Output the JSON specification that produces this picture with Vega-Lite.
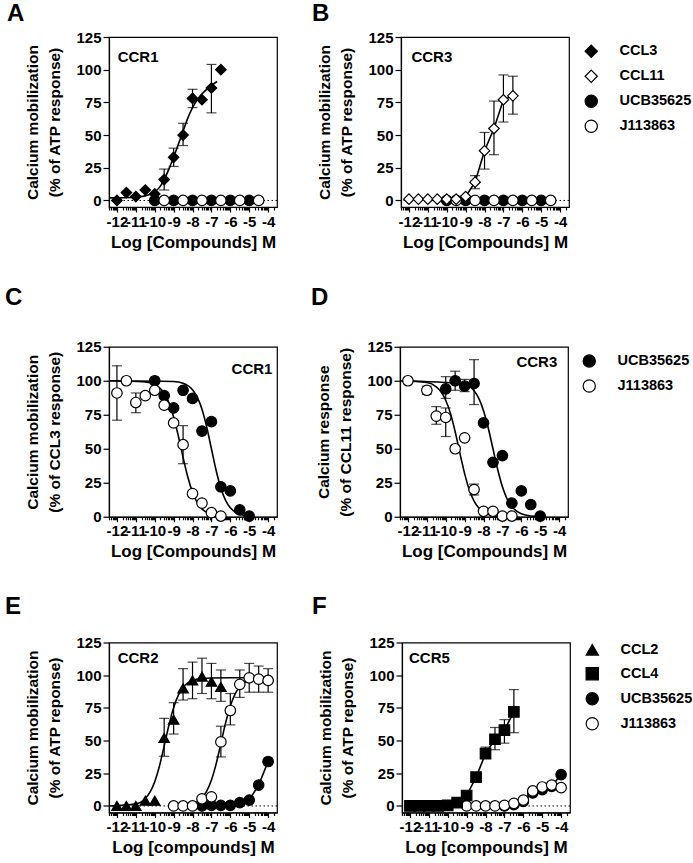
{
"$schema": "https://vega.github.io/schema/vega-lite/v6.json",
"padding": {"left": 4, "top": 0, "right": 0, "bottom": 0},
"background": "white",
"datasets": {
"pts": [
{"p":"A","s":"UCB35625","x":-10,"y":0},{"p":"A","s":"UCB35625","x":-9,"y":0},{"p":"A","s":"UCB35625","x":-8,"y":0},{"p":"A","s":"UCB35625","x":-7,"y":0},{"p":"A","s":"UCB35625","x":-6,"y":0},{"p":"A","s":"UCB35625","x":-5,"y":0},
{"p":"A","s":"J113863","x":-9.5,"y":0},{"p":"A","s":"J113863","x":-8.5,"y":0},{"p":"A","s":"J113863","x":-7.5,"y":0},{"p":"A","s":"J113863","x":-6.5,"y":0},{"p":"A","s":"J113863","x":-5.5,"y":0},{"p":"A","s":"J113863","x":-4.5,"y":0},
{"p":"A","s":"CCL3","x":-12,"y":0},{"p":"A","s":"CCL3","x":-11.5,"y":6},{"p":"A","s":"CCL3","x":-11,"y":3},{"p":"A","s":"CCL3","x":-10.5,"y":8},{"p":"A","s":"CCL3","x":-10,"y":5},{"p":"A","s":"CCL3","x":-9.5,"y":16},{"p":"A","s":"CCL3","x":-9,"y":33},{"p":"A","s":"CCL3","x":-8.5,"y":50},{"p":"A","s":"CCL3","x":-8,"y":78},{"p":"A","s":"CCL3","x":-7.5,"y":77},{"p":"A","s":"CCL3","x":-7,"y":86},{"p":"A","s":"CCL3","x":-6.5,"y":100},
{"p":"B","s":"UCB35625","x":-10,"y":0},{"p":"B","s":"UCB35625","x":-9,"y":0},{"p":"B","s":"UCB35625","x":-8,"y":0},{"p":"B","s":"UCB35625","x":-7,"y":0},{"p":"B","s":"UCB35625","x":-6,"y":0},{"p":"B","s":"UCB35625","x":-5,"y":0},
{"p":"B","s":"J113863","x":-9.5,"y":0},{"p":"B","s":"J113863","x":-8.5,"y":0},{"p":"B","s":"J113863","x":-7.5,"y":0},{"p":"B","s":"J113863","x":-6.5,"y":0},{"p":"B","s":"J113863","x":-5.5,"y":0},{"p":"B","s":"J113863","x":-4.5,"y":0},
{"p":"B","s":"CCL11","x":-12,"y":1},{"p":"B","s":"CCL11","x":-11.5,"y":1},{"p":"B","s":"CCL11","x":-11,"y":1},{"p":"B","s":"CCL11","x":-10.5,"y":1},{"p":"B","s":"CCL11","x":-10,"y":1},{"p":"B","s":"CCL11","x":-9.5,"y":1},{"p":"B","s":"CCL11","x":-9,"y":3},{"p":"B","s":"CCL11","x":-8.5,"y":14},{"p":"B","s":"CCL11","x":-8,"y":38},{"p":"B","s":"CCL11","x":-7.5,"y":55},{"p":"B","s":"CCL11","x":-7,"y":77},{"p":"B","s":"CCL11","x":-6.5,"y":80},
{"p":"C","s":"UCB35625","x":-10,"y":100},{"p":"C","s":"UCB35625","x":-9.5,"y":89},{"p":"C","s":"UCB35625","x":-9,"y":80},{"p":"C","s":"UCB35625","x":-8.5,"y":93},{"p":"C","s":"UCB35625","x":-8,"y":87},{"p":"C","s":"UCB35625","x":-7.5,"y":63},{"p":"C","s":"UCB35625","x":-7,"y":70},{"p":"C","s":"UCB35625","x":-6.5,"y":22},{"p":"C","s":"UCB35625","x":-6,"y":19},{"p":"C","s":"UCB35625","x":-5.5,"y":5},{"p":"C","s":"UCB35625","x":-5,"y":0.5},
{"p":"C","s":"J113863","x":-12,"y":91},{"p":"C","s":"J113863","x":-11.5,"y":100},{"p":"C","s":"J113863","x":-11,"y":84},{"p":"C","s":"J113863","x":-10.5,"y":89},{"p":"C","s":"J113863","x":-10,"y":93},{"p":"C","s":"J113863","x":-9.5,"y":82},{"p":"C","s":"J113863","x":-9,"y":69},{"p":"C","s":"J113863","x":-8.5,"y":53},{"p":"C","s":"J113863","x":-8,"y":17},{"p":"C","s":"J113863","x":-7.5,"y":10},{"p":"C","s":"J113863","x":-7,"y":3},{"p":"C","s":"J113863","x":-6.5,"y":0.5},
{"p":"D","s":"UCB35625","x":-10,"y":94},{"p":"D","s":"UCB35625","x":-9.5,"y":100},{"p":"D","s":"UCB35625","x":-9,"y":96},{"p":"D","s":"UCB35625","x":-8.5,"y":98},{"p":"D","s":"UCB35625","x":-8,"y":69},{"p":"D","s":"UCB35625","x":-7.5,"y":40},{"p":"D","s":"UCB35625","x":-7,"y":45},{"p":"D","s":"UCB35625","x":-6.5,"y":10},{"p":"D","s":"UCB35625","x":-6,"y":19},{"p":"D","s":"UCB35625","x":-5.5,"y":9},{"p":"D","s":"UCB35625","x":-5,"y":0.5},
{"p":"D","s":"J113863","x":-12,"y":100},{"p":"D","s":"J113863","x":-11,"y":93},{"p":"D","s":"J113863","x":-10.5,"y":74},{"p":"D","s":"J113863","x":-10,"y":73},{"p":"D","s":"J113863","x":-9.5,"y":50},{"p":"D","s":"J113863","x":-9,"y":58},{"p":"D","s":"J113863","x":-8.5,"y":20},{"p":"D","s":"J113863","x":-8,"y":4},{"p":"D","s":"J113863","x":-7.5,"y":4},{"p":"D","s":"J113863","x":-7,"y":0.5},{"p":"D","s":"J113863","x":-6.5,"y":0.5},
{"p":"E","s":"UCB35625","x":-7.5,"y":0},{"p":"E","s":"UCB35625","x":-7,"y":0.5},{"p":"E","s":"UCB35625","x":-6.5,"y":0.5},{"p":"E","s":"UCB35625","x":-6,"y":0.5},{"p":"E","s":"UCB35625","x":-5.5,"y":2.5},{"p":"E","s":"UCB35625","x":-5,"y":4.5},{"p":"E","s":"UCB35625","x":-4.5,"y":16},{"p":"E","s":"UCB35625","x":-4,"y":34},
{"p":"E","s":"J113863","x":-9,"y":0},{"p":"E","s":"J113863","x":-8.5,"y":0},{"p":"E","s":"J113863","x":-8,"y":0},{"p":"E","s":"J113863","x":-7.5,"y":5.5},{"p":"E","s":"J113863","x":-7,"y":7},{"p":"E","s":"J113863","x":-6.5,"y":49},{"p":"E","s":"J113863","x":-6,"y":73},{"p":"E","s":"J113863","x":-5.5,"y":93},{"p":"E","s":"J113863","x":-5,"y":98},{"p":"E","s":"J113863","x":-4.5,"y":97},{"p":"E","s":"J113863","x":-4,"y":96},
{"p":"E","s":"CCL2","x":-12,"y":0},{"p":"E","s":"CCL2","x":-11.5,"y":0},{"p":"E","s":"CCL2","x":-11,"y":0},{"p":"E","s":"CCL2","x":-10.5,"y":4},{"p":"E","s":"CCL2","x":-10,"y":4},{"p":"E","s":"CCL2","x":-9.5,"y":52},{"p":"E","s":"CCL2","x":-9,"y":66},{"p":"E","s":"CCL2","x":-8.5,"y":90},{"p":"E","s":"CCL2","x":-8,"y":96},{"p":"E","s":"CCL2","x":-7.5,"y":99},{"p":"E","s":"CCL2","x":-7,"y":95},{"p":"E","s":"CCL2","x":-6.5,"y":91},
{"p":"F","s":"UCB35625","x":-7,"y":0},{"p":"F","s":"UCB35625","x":-6.5,"y":1},{"p":"F","s":"UCB35625","x":-6,"y":3.5},{"p":"F","s":"UCB35625","x":-5.5,"y":10},{"p":"F","s":"UCB35625","x":-5,"y":12.5},{"p":"F","s":"UCB35625","x":-4.5,"y":15},{"p":"F","s":"UCB35625","x":-4,"y":24},
{"p":"F","s":"J113863","x":-9,"y":0},{"p":"F","s":"J113863","x":-8.5,"y":0},{"p":"F","s":"J113863","x":-8,"y":0},{"p":"F","s":"J113863","x":-7.5,"y":0},{"p":"F","s":"J113863","x":-7,"y":0.5},{"p":"F","s":"J113863","x":-6.5,"y":2},{"p":"F","s":"J113863","x":-6,"y":4.5},{"p":"F","s":"J113863","x":-5.5,"y":11.5},{"p":"F","s":"J113863","x":-5,"y":14.5},{"p":"F","s":"J113863","x":-4.5,"y":16},{"p":"F","s":"J113863","x":-4,"y":14},
{"p":"F","s":"CCL4","x":-12,"y":0},{"p":"F","s":"CCL4","x":-11.5,"y":0},{"p":"F","s":"CCL4","x":-11,"y":0},{"p":"F","s":"CCL4","x":-10.5,"y":0},{"p":"F","s":"CCL4","x":-10,"y":0.5},{"p":"F","s":"CCL4","x":-9.5,"y":2.5},{"p":"F","s":"CCL4","x":-9,"y":8},{"p":"F","s":"CCL4","x":-8.5,"y":22},{"p":"F","s":"CCL4","x":-8,"y":40},{"p":"F","s":"CCL4","x":-7.5,"y":51},{"p":"F","s":"CCL4","x":-7,"y":58},{"p":"F","s":"CCL4","x":-6.5,"y":72}
],
"err": [
{"p":"A","x":-9.5,"lo":8,"hi":24},{"p":"A","x":-9,"lo":26,"hi":40},{"p":"A","x":-8.5,"lo":42,"hi":59},{"p":"A","x":-8,"lo":71,"hi":85},{"p":"A","x":-7,"lo":67,"hi":104},
{"p":"B","x":-8.5,"lo":9,"hi":19},{"p":"B","x":-8,"lo":24,"hi":52},{"p":"B","x":-7.5,"lo":35,"hi":76},{"p":"B","x":-7,"lo":60,"hi":96},{"p":"B","x":-6.5,"lo":66,"hi":95},
{"p":"C","x":-12,"lo":71,"hi":111},{"p":"C","x":-11,"lo":76.5,"hi":91},{"p":"C","x":-8.5,"lo":39,"hi":67},
{"p":"D","x":-11,"lo":90,"hi":96},{"p":"D","x":-10.5,"lo":68,"hi":81},{"p":"D","x":-10,"lo":59,"hi":80},{"p":"D","x":-10,"lo":87,"hi":103},{"p":"D","x":-9.5,"lo":93,"hi":107},{"p":"D","x":-9,"lo":92,"hi":101},{"p":"D","x":-8.5,"lo":82.5,"hi":115.5},{"p":"D","x":-8.5,"lo":16,"hi":24},
{"p":"E","x":-9.5,"lo":38,"hi":67},{"p":"E","x":-9,"lo":55,"hi":79},{"p":"E","x":-8.5,"lo":81,"hi":105},{"p":"E","x":-8,"lo":82,"hi":110},{"p":"E","x":-7.5,"lo":86,"hi":113},{"p":"E","x":-7,"lo":82,"hi":109},{"p":"E","x":-6.5,"lo":80,"hi":104},
{"p":"E","x":-6.5,"lo":37.5,"hi":61},{"p":"E","x":-6,"lo":62,"hi":86},{"p":"E","x":-5.5,"lo":83,"hi":104},{"p":"E","x":-5,"lo":87,"hi":109},{"p":"E","x":-4.5,"lo":87,"hi":107},{"p":"E","x":-4,"lo":87,"hi":105},
{"p":"F","x":-8,"lo":37,"hi":45},{"p":"F","x":-7.5,"lo":43,"hi":60},{"p":"F","x":-7,"lo":48,"hi":66},{"p":"F","x":-6.5,"lo":56,"hi":89}
],
"fit": [
{"p":"A","s":"CCL3","x":-12.42,"y":2},{"p":"A","s":"CCL3","x":-11,"y":2.5},{"p":"A","s":"CCL3","x":-10.5,"y":3.5},{"p":"A","s":"CCL3","x":-10,"y":6.5},{"p":"A","s":"CCL3","x":-9.75,"y":10},{"p":"A","s":"CCL3","x":-9.5,"y":16},{"p":"A","s":"CCL3","x":-9.25,"y":24},{"p":"A","s":"CCL3","x":-9,"y":33},{"p":"A","s":"CCL3","x":-8.75,"y":43},{"p":"A","s":"CCL3","x":-8.5,"y":53},{"p":"A","s":"CCL3","x":-8.25,"y":63},{"p":"A","s":"CCL3","x":-8,"y":71},{"p":"A","s":"CCL3","x":-7.75,"y":77},{"p":"A","s":"CCL3","x":-7.5,"y":81.5},{"p":"A","s":"CCL3","x":-7.25,"y":85},{"p":"A","s":"CCL3","x":-7,"y":88},{"p":"A","s":"CCL3","x":-6.7,"y":91},
{"p":"C","s":"J113863","x":-12.42,"y":100},{"p":"C","s":"J113863","x":-10.5,"y":99.2},{"p":"C","s":"J113863","x":-10,"y":97.2},{"p":"C","s":"J113863","x":-9.5,"y":90.7},{"p":"C","s":"J113863","x":-9.25,"y":83.8},{"p":"C","s":"J113863","x":-9,"y":73.4},{"p":"C","s":"J113863","x":-8.75,"y":59.4},{"p":"C","s":"J113863","x":-8.5,"y":43.7},{"p":"C","s":"J113863","x":-8.25,"y":29.2},{"p":"C","s":"J113863","x":-8,"y":18},{"p":"C","s":"J113863","x":-7.75,"y":10.4},{"p":"C","s":"J113863","x":-7.5,"y":5.8},{"p":"C","s":"J113863","x":-7.25,"y":3.2},{"p":"C","s":"J113863","x":-7,"y":1.7},{"p":"C","s":"J113863","x":-6.5,"y":0.5},
{"p":"C","s":"UCB35625","x":-12.42,"y":100},{"p":"C","s":"UCB35625","x":-9,"y":99.5},{"p":"C","s":"UCB35625","x":-8.5,"y":98.2},{"p":"C","s":"UCB35625","x":-8,"y":93.4},{"p":"C","s":"UCB35625","x":-7.75,"y":87.9},{"p":"C","s":"UCB35625","x":-7.5,"y":79},{"p":"C","s":"UCB35625","x":-7.25,"y":66},{"p":"C","s":"UCB35625","x":-7,"y":50},{"p":"C","s":"UCB35625","x":-6.75,"y":34},{"p":"C","s":"UCB35625","x":-6.5,"y":21},{"p":"C","s":"UCB35625","x":-6.25,"y":12.1},{"p":"C","s":"UCB35625","x":-6,"y":6.6},{"p":"C","s":"UCB35625","x":-5.75,"y":3.5},{"p":"C","s":"UCB35625","x":-5.5,"y":1.8},{"p":"C","s":"UCB35625","x":-5,"y":0.5},{"p":"C","s":"UCB35625","x":-4.75,"y":0.3},
{"p":"D","s":"J113863","x":-12.42,"y":100},{"p":"D","s":"J113863","x":-11,"y":98.7},{"p":"D","s":"J113863","x":-10.5,"y":95.5},{"p":"D","s":"J113863","x":-10.25,"y":91.9},{"p":"D","s":"J113863","x":-10,"y":85.7},{"p":"D","s":"J113863","x":-9.75,"y":76},{"p":"D","s":"J113863","x":-9.5,"y":62.5},{"p":"D","s":"J113863","x":-9.25,"y":46.8},{"p":"D","s":"J113863","x":-9,"y":31.7},{"p":"D","s":"J113863","x":-8.75,"y":19.7},{"p":"D","s":"J113863","x":-8.5,"y":11.5},{"p":"D","s":"J113863","x":-8.25,"y":6.4},{"p":"D","s":"J113863","x":-8,"y":3.5},{"p":"D","s":"J113863","x":-7.5,"y":1},{"p":"D","s":"J113863","x":-7,"y":0.3},{"p":"D","s":"J113863","x":-6.5,"y":0.1},
{"p":"D","s":"UCB35625","x":-12.42,"y":100},{"p":"D","s":"UCB35625","x":-9,"y":97.8},{"p":"D","s":"UCB35625","x":-8.75,"y":96},{"p":"D","s":"UCB35625","x":-8.5,"y":92.6},{"p":"D","s":"UCB35625","x":-8.25,"y":87},{"p":"D","s":"UCB35625","x":-8,"y":78},{"p":"D","s":"UCB35625","x":-7.75,"y":65.3},{"p":"D","s":"UCB35625","x":-7.5,"y":50},{"p":"D","s":"UCB35625","x":-7.25,"y":34.7},{"p":"D","s":"UCB35625","x":-7,"y":22},{"p":"D","s":"UCB35625","x":-6.75,"y":13},{"p":"D","s":"UCB35625","x":-6.5,"y":7.4},{"p":"D","s":"UCB35625","x":-6,"y":2.2},{"p":"D","s":"UCB35625","x":-5.5,"y":0.6},{"p":"D","s":"UCB35625","x":-5,"y":0.2},
{"p":"E","s":"CCL2","x":-12.42,"y":0},{"p":"E","s":"CCL2","x":-11,"y":1.6},{"p":"E","s":"CCL2","x":-10.5,"y":5.7},{"p":"E","s":"CCL2","x":-10.25,"y":10.5},{"p":"E","s":"CCL2","x":-10,"y":18.5},{"p":"E","s":"CCL2","x":-9.75,"y":30.5},{"p":"E","s":"CCL2","x":-9.5,"y":45.8},{"p":"E","s":"CCL2","x":-9.25,"y":61.7},{"p":"E","s":"CCL2","x":-9,"y":75.2},{"p":"E","s":"CCL2","x":-8.75,"y":84.7},{"p":"E","s":"CCL2","x":-8.5,"y":90.7},{"p":"E","s":"CCL2","x":-8.25,"y":94.1},{"p":"E","s":"CCL2","x":-8,"y":95.9},{"p":"E","s":"CCL2","x":-7.5,"y":97.4},{"p":"E","s":"CCL2","x":-7,"y":97.8},{"p":"E","s":"CCL2","x":-6,"y":98},{"p":"E","s":"CCL2","x":-4,"y":98},
{"p":"E","s":"J113863","x":-9,"y":0.1},{"p":"E","s":"J113863","x":-8,"y":1.7},{"p":"E","s":"J113863","x":-7.5,"y":6.2},{"p":"E","s":"J113863","x":-7.25,"y":11.3},{"p":"E","s":"J113863","x":-7,"y":19.8},{"p":"E","s":"J113863","x":-6.75,"y":32.2},{"p":"E","s":"J113863","x":-6.5,"y":47.7},{"p":"E","s":"J113863","x":-6.25,"y":63.5},{"p":"E","s":"J113863","x":-6,"y":76.5},{"p":"E","s":"J113863","x":-5.75,"y":85.6},{"p":"E","s":"J113863","x":-5.5,"y":91.2},{"p":"E","s":"J113863","x":-5.25,"y":94.4},{"p":"E","s":"J113863","x":-5,"y":96.1},{"p":"E","s":"J113863","x":-4.5,"y":97.5},{"p":"E","s":"J113863","x":-4,"y":97.9}
]
},
"vconcat": [
{"hconcat": [
{"width":168,"height":170,"title":{"text":"A","dx":-102,"offset":4.5},
"layer":[
{"data":{"values":[{}]},"mark":{"type":"rule","strokeDash":[1.5,2.5],"strokeWidth":1,"color":"black"},"encoding":{"y":{"datum":0}}},
{"data":{"name":"fit"},"transform":[{"filter":"datum.p==='A'"}],"mark":{"type":"line","color":"black","strokeWidth":1.6,"interpolate":"monotone"},"encoding":{"x":{"field":"x","type":"quantitative"},"y":{"field":"y","type":"quantitative"},"detail":{"field":"s"}}},
{"data":{"name":"err"},"transform":[{"filter":"datum.p==='A'"}],"mark":{"type":"rule","color":"black","strokeWidth":1.2},"encoding":{"x":{"field":"x","type":"quantitative"},"y":{"field":"lo","type":"quantitative"},"y2":{"field":"hi"}}},
{"data":{"name":"err"},"transform":[{"filter":"datum.p==='A'"}],"mark":{"type":"tick","orient":"horizontal","color":"black","thickness":1.2,"size":10},"encoding":{"x":{"field":"x","type":"quantitative"},"y":{"field":"hi","type":"quantitative"}}},
{"data":{"name":"err"},"transform":[{"filter":"datum.p==='A'"}],"mark":{"type":"tick","orient":"horizontal","color":"black","thickness":1.2,"size":10},"encoding":{"x":{"field":"x","type":"quantitative"},"y":{"field":"lo","type":"quantitative"}}},
{"data":{"name":"pts"},"transform":[{"filter":"datum.p==='A'"}],"mark":{"type":"point","filled":true,"strokeWidth":1.2,"size":110,"opacity":1},
"encoding":{
"x":{"field":"x","type":"quantitative","scale":{"domain":[-12.42,-3.53],"nice":false,"zero":false},"axis":{"title":"Log [Compounds] M","tickCount":1000,"values":[-12.398,-12.301,-12.222,-12.155,-12.097,-12.046,-12,-11.699,-11.523,-11.398,-11.301,-11.222,-11.155,-11.097,-11.046,-11,-10.699,-10.523,-10.398,-10.301,-10.222,-10.155,-10.097,-10.046,-10,-9.699,-9.523,-9.398,-9.301,-9.222,-9.155,-9.097,-9.046,-9,-8.699,-8.523,-8.398,-8.301,-8.222,-8.155,-8.097,-8.046,-8,-7.699,-7.523,-7.398,-7.301,-7.222,-7.155,-7.097,-7.046,-7,-6.699,-6.523,-6.398,-6.301,-6.222,-6.155,-6.097,-6.046,-6,-5.699,-5.523,-5.398,-5.301,-5.222,-5.155,-5.097,-5.046,-5,-4.699,-4.523,-4.398,-4.301,-4.222,-4.155,-4.097,-4.046,-4,-3.699],"labelExpr":"datum.value % 1 === 0 ? datum.value : ''","tickSize":{"condition":{"test":"datum.value % 1 === 0","value":5},"value":3},"labelOverlap":false,"labelFlush":false,"labelBound":false}},
"y":{"field":"y","type":"quantitative","scale":{"domain":[-5,125],"nice":false,"zero":false},"axis":{"title":["Calcium mobilization","(% of ATP response)"],"values":[0,25,50,75,100,125],"tickCount":1000,"format":"d","labelOverlap":false}},
"shape":{"field":"s","type":"nominal","scale":{"domain":["CCL3","CCL11","UCB35625","J113863"],"range":["diamond","diamond","circle","circle"]},"legend":{"title":null,"padding":7,"offset":6}},
"fill":{"field":"s","type":"nominal","scale":{"domain":["CCL3","CCL11","UCB35625","J113863"],"range":["black","white","black","white"]},"legend":{"title":null,"padding":7,"offset":6}},
"stroke":{"field":"s","type":"nominal","scale":{"domain":["CCL3","CCL11","UCB35625","J113863"],"range":["black","black","black","black"]},"legend":{"title":null,"padding":7,"offset":6}}
}},
{"data":{"values":[{}]},"mark":{"type":"text","text":"CCR1","align":"left","baseline":"middle","fontSize":15,"fontWeight":"bold","color":"black"},"encoding":{"x":{"datum":-11.96},"y":{"datum":109.5}}}
]},
{"width":168,"height":170,"title":{"text":"B","dx":-89,"offset":4.5},
"layer":[
{"data":{"values":[{}]},"mark":{"type":"rule","strokeDash":[1.5,2.5],"strokeWidth":1,"color":"black"},"encoding":{"y":{"datum":0}}},
{"data":{"name":"pts"},"transform":[{"filter":"datum.p==='B' && datum.s==='CCL11'"}],"mark":{"type":"line","color":"black","strokeWidth":1.6},"encoding":{"x":{"field":"x","type":"quantitative"},"y":{"field":"y","type":"quantitative"}}},
{"data":{"name":"err"},"transform":[{"filter":"datum.p==='B'"}],"mark":{"type":"rule","color":"black","strokeWidth":1.2},"encoding":{"x":{"field":"x","type":"quantitative"},"y":{"field":"lo","type":"quantitative"},"y2":{"field":"hi"}}},
{"data":{"name":"err"},"transform":[{"filter":"datum.p==='B'"}],"mark":{"type":"tick","orient":"horizontal","color":"black","thickness":1.2,"size":10},"encoding":{"x":{"field":"x","type":"quantitative"},"y":{"field":"hi","type":"quantitative"}}},
{"data":{"name":"err"},"transform":[{"filter":"datum.p==='B'"}],"mark":{"type":"tick","orient":"horizontal","color":"black","thickness":1.2,"size":10},"encoding":{"x":{"field":"x","type":"quantitative"},"y":{"field":"lo","type":"quantitative"}}},
{"data":{"name":"pts"},"transform":[{"filter":"datum.p==='B'"}],"mark":{"type":"point","filled":true,"strokeWidth":1.2,"size":110,"opacity":1},
"encoding":{
"x":{"field":"x","type":"quantitative","scale":{"domain":[-12.42,-3.53],"nice":false,"zero":false},"axis":{"title":"Log [Compounds] M","tickCount":1000,"values":[-12.398,-12.301,-12.222,-12.155,-12.097,-12.046,-12,-11.699,-11.523,-11.398,-11.301,-11.222,-11.155,-11.097,-11.046,-11,-10.699,-10.523,-10.398,-10.301,-10.222,-10.155,-10.097,-10.046,-10,-9.699,-9.523,-9.398,-9.301,-9.222,-9.155,-9.097,-9.046,-9,-8.699,-8.523,-8.398,-8.301,-8.222,-8.155,-8.097,-8.046,-8,-7.699,-7.523,-7.398,-7.301,-7.222,-7.155,-7.097,-7.046,-7,-6.699,-6.523,-6.398,-6.301,-6.222,-6.155,-6.097,-6.046,-6,-5.699,-5.523,-5.398,-5.301,-5.222,-5.155,-5.097,-5.046,-5,-4.699,-4.523,-4.398,-4.301,-4.222,-4.155,-4.097,-4.046,-4,-3.699],"labelExpr":"datum.value % 1 === 0 ? datum.value : ''","tickSize":{"condition":{"test":"datum.value % 1 === 0","value":5},"value":3},"labelOverlap":false,"labelFlush":false,"labelBound":false}},
"y":{"field":"y","type":"quantitative","scale":{"domain":[-5,125],"nice":false,"zero":false},"axis":{"title":["Calcium mobilization","(% of ATP response)"],"values":[0,25,50,75,100,125],"tickCount":1000,"format":"d","labelOverlap":false}},
"shape":{"field":"s","type":"nominal","scale":{"domain":["CCL3","CCL11","UCB35625","J113863"],"range":["diamond","diamond","circle","circle"]},"legend":{"title":null,"padding":7,"offset":6}},
"fill":{"field":"s","type":"nominal","scale":{"domain":["CCL3","CCL11","UCB35625","J113863"],"range":["black","white","black","white"]},"legend":{"title":null,"padding":7,"offset":6}},
"stroke":{"field":"s","type":"nominal","scale":{"domain":["CCL3","CCL11","UCB35625","J113863"],"range":["black","black","black","black"]},"legend":{"title":null,"padding":7,"offset":6}}
}},
{"data":{"values":[{}]},"mark":{"type":"text","text":"CCR3","align":"left","baseline":"middle","fontSize":15,"fontWeight":"bold","color":"black"},"encoding":{"x":{"datum":-11.87},"y":{"datum":110}}}
]}
],"spacing":32},
{"hconcat": [
{"width":168,"height":170,"title":{"text":"C","dx":-104,"offset":29.75},
"layer":[
{"data":{"name":"fit"},"transform":[{"filter":"datum.p==='C'"}],"mark":{"type":"line","color":"black","strokeWidth":1.6,"interpolate":"monotone"},"encoding":{"x":{"field":"x","type":"quantitative"},"y":{"field":"y","type":"quantitative"},"detail":{"field":"s"}}},
{"data":{"name":"err"},"transform":[{"filter":"datum.p==='C'"}],"mark":{"type":"rule","color":"black","strokeWidth":1.2},"encoding":{"x":{"field":"x","type":"quantitative"},"y":{"field":"lo","type":"quantitative"},"y2":{"field":"hi"}}},
{"data":{"name":"err"},"transform":[{"filter":"datum.p==='C'"}],"mark":{"type":"tick","orient":"horizontal","color":"black","thickness":1.2,"size":10},"encoding":{"x":{"field":"x","type":"quantitative"},"y":{"field":"hi","type":"quantitative"}}},
{"data":{"name":"err"},"transform":[{"filter":"datum.p==='C'"}],"mark":{"type":"tick","orient":"horizontal","color":"black","thickness":1.2,"size":10},"encoding":{"x":{"field":"x","type":"quantitative"},"y":{"field":"lo","type":"quantitative"}}},
{"data":{"name":"pts"},"transform":[{"filter":"datum.p==='C'"}],"mark":{"type":"point","filled":true,"strokeWidth":1.2,"size":110,"opacity":1},
"encoding":{
"x":{"field":"x","type":"quantitative","scale":{"domain":[-12.42,-3.53],"nice":false,"zero":false},"axis":{"title":"Log [Compounds] M","tickCount":1000,"values":[-12.398,-12.301,-12.222,-12.155,-12.097,-12.046,-12,-11.699,-11.523,-11.398,-11.301,-11.222,-11.155,-11.097,-11.046,-11,-10.699,-10.523,-10.398,-10.301,-10.222,-10.155,-10.097,-10.046,-10,-9.699,-9.523,-9.398,-9.301,-9.222,-9.155,-9.097,-9.046,-9,-8.699,-8.523,-8.398,-8.301,-8.222,-8.155,-8.097,-8.046,-8,-7.699,-7.523,-7.398,-7.301,-7.222,-7.155,-7.097,-7.046,-7,-6.699,-6.523,-6.398,-6.301,-6.222,-6.155,-6.097,-6.046,-6,-5.699,-5.523,-5.398,-5.301,-5.222,-5.155,-5.097,-5.046,-5,-4.699,-4.523,-4.398,-4.301,-4.222,-4.155,-4.097,-4.046,-4,-3.699],"labelExpr":"datum.value % 1 === 0 ? datum.value : ''","tickSize":{"condition":{"test":"datum.value % 1 === 0","value":5},"value":3},"labelOverlap":false,"labelFlush":false,"labelBound":false}},
"y":{"field":"y","type":"quantitative","scale":{"domain":[0,125],"nice":false,"zero":false},"axis":{"title":["Calcium mobilization","(% of CCL3 response)"],"values":[0,25,50,75,100,125],"tickCount":1000,"format":"d","labelOverlap":false}},
"shape":{"field":"s","type":"nominal","scale":{"domain":["UCB35625","J113863"],"range":["circle","circle"]},"legend":{"title":null,"padding":7,"offset":6}},
"fill":{"field":"s","type":"nominal","scale":{"domain":["UCB35625","J113863"],"range":["black","white"]},"legend":{"title":null,"padding":7,"offset":6}},
"stroke":{"field":"s","type":"nominal","scale":{"domain":["UCB35625","J113863"],"range":["black","black"]},"legend":{"title":null,"padding":7,"offset":6}}
}},
{"data":{"values":[{}]},"mark":{"type":"text","text":"CCR1","align":"right","baseline":"middle","fontSize":15,"fontWeight":"bold","color":"black"},"encoding":{"x":{"datum":-3.77},"y":{"datum":109}}}
]},
{"width":168,"height":170,"title":{"text":"D","dx":-89,"offset":29.75},
"layer":[
{"data":{"name":"fit"},"transform":[{"filter":"datum.p==='D'"}],"mark":{"type":"line","color":"black","strokeWidth":1.6,"interpolate":"monotone"},"encoding":{"x":{"field":"x","type":"quantitative"},"y":{"field":"y","type":"quantitative"},"detail":{"field":"s"}}},
{"data":{"name":"err"},"transform":[{"filter":"datum.p==='D'"}],"mark":{"type":"rule","color":"black","strokeWidth":1.2},"encoding":{"x":{"field":"x","type":"quantitative"},"y":{"field":"lo","type":"quantitative"},"y2":{"field":"hi"}}},
{"data":{"name":"err"},"transform":[{"filter":"datum.p==='D'"}],"mark":{"type":"tick","orient":"horizontal","color":"black","thickness":1.2,"size":10},"encoding":{"x":{"field":"x","type":"quantitative"},"y":{"field":"hi","type":"quantitative"}}},
{"data":{"name":"err"},"transform":[{"filter":"datum.p==='D'"}],"mark":{"type":"tick","orient":"horizontal","color":"black","thickness":1.2,"size":10},"encoding":{"x":{"field":"x","type":"quantitative"},"y":{"field":"lo","type":"quantitative"}}},
{"data":{"name":"pts"},"transform":[{"filter":"datum.p==='D'"}],"mark":{"type":"point","filled":true,"strokeWidth":1.2,"size":110,"opacity":1},
"encoding":{
"x":{"field":"x","type":"quantitative","scale":{"domain":[-12.42,-3.53],"nice":false,"zero":false},"axis":{"title":"Log [Compounds] M","tickCount":1000,"values":[-12.398,-12.301,-12.222,-12.155,-12.097,-12.046,-12,-11.699,-11.523,-11.398,-11.301,-11.222,-11.155,-11.097,-11.046,-11,-10.699,-10.523,-10.398,-10.301,-10.222,-10.155,-10.097,-10.046,-10,-9.699,-9.523,-9.398,-9.301,-9.222,-9.155,-9.097,-9.046,-9,-8.699,-8.523,-8.398,-8.301,-8.222,-8.155,-8.097,-8.046,-8,-7.699,-7.523,-7.398,-7.301,-7.222,-7.155,-7.097,-7.046,-7,-6.699,-6.523,-6.398,-6.301,-6.222,-6.155,-6.097,-6.046,-6,-5.699,-5.523,-5.398,-5.301,-5.222,-5.155,-5.097,-5.046,-5,-4.699,-4.523,-4.398,-4.301,-4.222,-4.155,-4.097,-4.046,-4,-3.699],"labelExpr":"datum.value % 1 === 0 ? datum.value : ''","tickSize":{"condition":{"test":"datum.value % 1 === 0","value":5},"value":3},"labelOverlap":false,"labelFlush":false,"labelBound":false}},
"y":{"field":"y","type":"quantitative","scale":{"domain":[0,125],"nice":false,"zero":false},"axis":{"title":["Calcium response","(% of CCL11 response)"],"values":[0,25,50,75,100,125],"tickCount":1000,"format":"d","labelOverlap":false}},
"shape":{"field":"s","type":"nominal","scale":{"domain":["UCB35625","J113863"],"range":["circle","circle"]},"legend":{"title":null,"padding":7,"offset":6}},
"fill":{"field":"s","type":"nominal","scale":{"domain":["UCB35625","J113863"],"range":["black","white"]},"legend":{"title":null,"padding":7,"offset":6}},
"stroke":{"field":"s","type":"nominal","scale":{"domain":["UCB35625","J113863"],"range":["black","black"]},"legend":{"title":null,"padding":7,"offset":6}}
}},
{"data":{"values":[{}]},"mark":{"type":"text","text":"CCR3","align":"right","baseline":"middle","fontSize":15,"fontWeight":"bold","color":"black"},"encoding":{"x":{"datum":-4.1},"y":{"datum":114}}}
]}
],"spacing":32},
{"hconcat": [
{"width":168,"height":170,"title":{"text":"E","dx":-104,"offset":16.25},
"layer":[
{"data":{"values":[{}]},"mark":{"type":"rule","strokeDash":[1.5,2.5],"strokeWidth":1,"color":"black"},"encoding":{"y":{"datum":0}}},
{"data":{"name":"fit"},"transform":[{"filter":"datum.p==='E'"}],"mark":{"type":"line","color":"black","strokeWidth":1.6,"interpolate":"monotone"},"encoding":{"x":{"field":"x","type":"quantitative"},"y":{"field":"y","type":"quantitative"},"detail":{"field":"s"}}},
{"data":{"name":"pts"},"transform":[{"filter":"datum.p==='E' && datum.s==='UCB35625'"}],"mark":{"type":"line","color":"black","strokeWidth":1.6},"encoding":{"x":{"field":"x","type":"quantitative"},"y":{"field":"y","type":"quantitative"}}},
{"data":{"name":"err"},"transform":[{"filter":"datum.p==='E'"}],"mark":{"type":"rule","color":"black","strokeWidth":1.2},"encoding":{"x":{"field":"x","type":"quantitative"},"y":{"field":"lo","type":"quantitative"},"y2":{"field":"hi"}}},
{"data":{"name":"err"},"transform":[{"filter":"datum.p==='E'"}],"mark":{"type":"tick","orient":"horizontal","color":"black","thickness":1.2,"size":10},"encoding":{"x":{"field":"x","type":"quantitative"},"y":{"field":"hi","type":"quantitative"}}},
{"data":{"name":"err"},"transform":[{"filter":"datum.p==='E'"}],"mark":{"type":"tick","orient":"horizontal","color":"black","thickness":1.2,"size":10},"encoding":{"x":{"field":"x","type":"quantitative"},"y":{"field":"lo","type":"quantitative"}}},
{"data":{"name":"pts"},"transform":[{"filter":"datum.p==='E'"}],"mark":{"type":"point","filled":true,"strokeWidth":1.2,"size":110,"opacity":1},
"encoding":{
"x":{"field":"x","type":"quantitative","scale":{"domain":[-12.42,-3.53],"nice":false,"zero":false},"axis":{"title":"Log [compounds] M","tickCount":1000,"values":[-12.398,-12.301,-12.222,-12.155,-12.097,-12.046,-12,-11.699,-11.523,-11.398,-11.301,-11.222,-11.155,-11.097,-11.046,-11,-10.699,-10.523,-10.398,-10.301,-10.222,-10.155,-10.097,-10.046,-10,-9.699,-9.523,-9.398,-9.301,-9.222,-9.155,-9.097,-9.046,-9,-8.699,-8.523,-8.398,-8.301,-8.222,-8.155,-8.097,-8.046,-8,-7.699,-7.523,-7.398,-7.301,-7.222,-7.155,-7.097,-7.046,-7,-6.699,-6.523,-6.398,-6.301,-6.222,-6.155,-6.097,-6.046,-6,-5.699,-5.523,-5.398,-5.301,-5.222,-5.155,-5.097,-5.046,-5,-4.699,-4.523,-4.398,-4.301,-4.222,-4.155,-4.097,-4.046,-4,-3.699],"labelExpr":"datum.value % 1 === 0 ? datum.value : ''","tickSize":{"condition":{"test":"datum.value % 1 === 0","value":5},"value":3},"labelOverlap":false,"labelFlush":false,"labelBound":false}},
"y":{"field":"y","type":"quantitative","scale":{"domain":[-5,125],"nice":false,"zero":false},"axis":{"title":["Calcium mobilization","(% of ATP reponse)"],"values":[0,25,50,75,100,125],"tickCount":1000,"format":"d","labelOverlap":false}},
"shape":{"field":"s","type":"nominal","scale":{"domain":["CCL2","CCL4","UCB35625","J113863"],"range":["triangle-up","square","circle","circle"]},"legend":{"title":null,"padding":0,"offset":13}},
"fill":{"field":"s","type":"nominal","scale":{"domain":["CCL2","CCL4","UCB35625","J113863"],"range":["black","black","black","white"]},"legend":{"title":null,"padding":0,"offset":13}},
"stroke":{"field":"s","type":"nominal","scale":{"domain":["CCL2","CCL4","UCB35625","J113863"],"range":["black","black","black","black"]},"legend":{"title":null,"padding":0,"offset":13}}
}},
{"data":{"values":[{}]},"mark":{"type":"text","text":"CCR2","align":"left","baseline":"middle","fontSize":15,"fontWeight":"bold","color":"black"},"encoding":{"x":{"datum":-11.96},"y":{"datum":113}}}
]},
{"width":168,"height":170,"title":{"text":"F","dx":-90,"offset":16.25},
"layer":[
{"data":{"values":[{}]},"mark":{"type":"rule","strokeDash":[1.5,2.5],"strokeWidth":1,"color":"black"},"encoding":{"y":{"datum":0}}},
{"data":{"name":"pts"},"transform":[{"filter":"datum.p==='F'"}],"mark":{"type":"line","color":"black","strokeWidth":1.6},"encoding":{"x":{"field":"x","type":"quantitative"},"y":{"field":"y","type":"quantitative"},"detail":{"field":"s"}}},
{"data":{"name":"err"},"transform":[{"filter":"datum.p==='F'"}],"mark":{"type":"rule","color":"black","strokeWidth":1.2},"encoding":{"x":{"field":"x","type":"quantitative"},"y":{"field":"lo","type":"quantitative"},"y2":{"field":"hi"}}},
{"data":{"name":"err"},"transform":[{"filter":"datum.p==='F'"}],"mark":{"type":"tick","orient":"horizontal","color":"black","thickness":1.2,"size":10},"encoding":{"x":{"field":"x","type":"quantitative"},"y":{"field":"hi","type":"quantitative"}}},
{"data":{"name":"err"},"transform":[{"filter":"datum.p==='F'"}],"mark":{"type":"tick","orient":"horizontal","color":"black","thickness":1.2,"size":10},"encoding":{"x":{"field":"x","type":"quantitative"},"y":{"field":"lo","type":"quantitative"}}},
{"data":{"name":"pts"},"transform":[{"filter":"datum.p==='F'"}],"mark":{"type":"point","filled":true,"strokeWidth":1.2,"size":110,"opacity":1},
"encoding":{
"x":{"field":"x","type":"quantitative","scale":{"domain":[-12.42,-3.53],"nice":false,"zero":false},"axis":{"title":"Log [compounds] M","tickCount":1000,"values":[-12.398,-12.301,-12.222,-12.155,-12.097,-12.046,-12,-11.699,-11.523,-11.398,-11.301,-11.222,-11.155,-11.097,-11.046,-11,-10.699,-10.523,-10.398,-10.301,-10.222,-10.155,-10.097,-10.046,-10,-9.699,-9.523,-9.398,-9.301,-9.222,-9.155,-9.097,-9.046,-9,-8.699,-8.523,-8.398,-8.301,-8.222,-8.155,-8.097,-8.046,-8,-7.699,-7.523,-7.398,-7.301,-7.222,-7.155,-7.097,-7.046,-7,-6.699,-6.523,-6.398,-6.301,-6.222,-6.155,-6.097,-6.046,-6,-5.699,-5.523,-5.398,-5.301,-5.222,-5.155,-5.097,-5.046,-5,-4.699,-4.523,-4.398,-4.301,-4.222,-4.155,-4.097,-4.046,-4,-3.699],"labelExpr":"datum.value % 1 === 0 ? datum.value : ''","tickSize":{"condition":{"test":"datum.value % 1 === 0","value":5},"value":3},"labelOverlap":false,"labelFlush":false,"labelBound":false}},
"y":{"field":"y","type":"quantitative","scale":{"domain":[-5,125],"nice":false,"zero":false},"axis":{"title":["Calcium mobilization","(% of ATP reponse)"],"values":[0,25,50,75,100,125],"tickCount":1000,"format":"d","labelOverlap":false}},
"shape":{"field":"s","type":"nominal","scale":{"domain":["CCL2","CCL4","UCB35625","J113863"],"range":["triangle-up","square","circle","circle"]},"legend":{"title":null,"padding":0,"offset":13}},
"fill":{"field":"s","type":"nominal","scale":{"domain":["CCL2","CCL4","UCB35625","J113863"],"range":["black","black","black","white"]},"legend":{"title":null,"padding":0,"offset":13}},
"stroke":{"field":"s","type":"nominal","scale":{"domain":["CCL2","CCL4","UCB35625","J113863"],"range":["black","black","black","black"]},"legend":{"title":null,"padding":0,"offset":13}}
}},
{"data":{"values":[{}]},"mark":{"type":"text","text":"CCR5","align":"left","baseline":"middle","fontSize":15,"fontWeight":"bold","color":"black"},"encoding":{"x":{"datum":-12.05},"y":{"datum":113}}}
]}
],"spacing":32}
],
"spacing":33.75,
"resolve":{"scale":{"shape":"independent","fill":"independent","stroke":"independent"}},
"config":{
"font":"Liberation Sans",
"view":{"stroke":"black","strokeWidth":1.2},
"axis":{"grid":false,"domainColor":"black","domainWidth":1.2,"tickColor":"black","tickWidth":1.2,"labelColor":"black","titleColor":"black","labelFontSize":15,"labelFontWeight":"bold","titleFontWeight":"bold","labelFont":"Liberation Sans","titleFont":"Liberation Sans"},
"axisX":{"titleFontSize":17,"titlePadding":5,"labelPadding":2},
"axisY":{"titleFontSize":15.5,"titleLineHeight":22,"titlePadding":13,"labelPadding":2,"tickSize":6},
"legend":{"orient":"right","labelFontSize":14.5,"labelFontWeight":"bold","labelColor":"black","labelFont":"Liberation Sans","symbolSize":150,"symbolStrokeWidth":1.2,"rowPadding":7,"labelOffset":21},
"title":{"fontSize":24,"fontWeight":"bold","anchor":"start","frame":"group","color":"black","font":"Liberation Sans"}
}
}
